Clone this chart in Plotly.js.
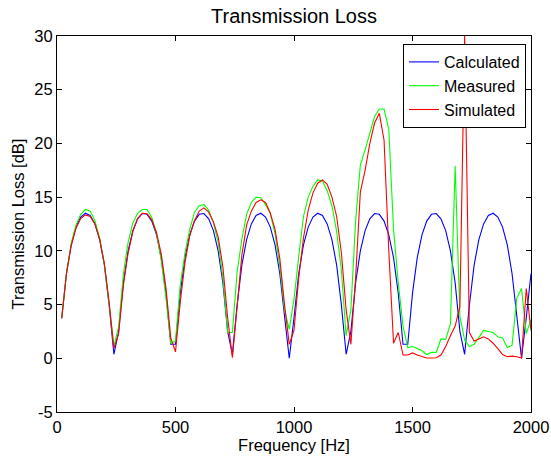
<!DOCTYPE html>
<html>
<head>
<meta charset="utf-8">
<script src="https://cdn.plot.ly/plotly-3.0.1.min.js"></script>
<style>html,body{margin:0;padding:0;background:#fff;}#chart{width:551px;height:461px;}</style>
</head>
<body>
<div id="chart"></div>
<script>
const frequency = [
  20,40,60,80,100,120,140,160,180,200,
  220,240,260,280,300,320,340,360,380,400,
  420,440,460,480,500,520,540,560,580,600,
  620,640,660,680,700,720,740,760,780,800,
  820,840,860,880,900,920,940,960,980,1000,
  1020,1040,1060,1080,1100,1120,1140,1160,1180,1200,
  1220,1240,1260,1280,1300,1320,1340,1360,1380,1400,
  1420,1440,1460,1480,1500,1520,1540,1560,1580,1600,
  1620,1640,1660,1680,1700,1720,1740,1760,1780,1800,
  1820,1840,1860,1880,1900,1920,1940,1960,1980,2000
];
const calculated = [
  3.76,7.89,10.56,12.21,13.15,13.50,13.29,12.51,11.05,8.67,
  4.95,0.37,2.51,7.02,10.0,11.88,12.98,13.47,13.40,12.77,
  11.49,9.37,6.04,1.30,1.30,6.04,9.37,11.49,12.77,13.40,
  13.47,12.98,11.88,10.0,7.02,2.51,0.37,4.95,8.67,11.05,
  12.51,13.29,13.50,13.15,12.21,10.56,7.89,3.76,0.0,3.76,
  7.89,10.56,12.21,13.15,13.50,13.29,12.51,11.05,8.67,4.95,
  0.37,2.51,7.02,10.0,11.88,12.98,13.47,13.40,12.77,11.49,
  9.37,6.04,1.30,1.30,6.04,9.37,11.49,12.77,13.40,13.47,
  12.98,11.88,10.0,7.02,2.51,0.37,4.95,8.67,11.05,12.51,
  13.29,13.50,13.15,12.21,10.56,7.89,3.76,0.0,3.76,7.89
];
const measured = [
  3.8,7.9,10.7,12.4,13.4,13.85,13.7,12.8,11.2,8.7,
  5.0,1.1,2.9,7.8,10.8,12.6,13.5,13.85,13.85,13.1,
  11.6,9.1,5.6,1.4,1.6,6.8,9.8,12.0,13.6,14.2,
  14.3,13.8,12.6,10.8,7.5,2.4,2.4,8.0,11.1,13.4,
  14.5,15.0,14.95,14.3,13.5,11.6,8.6,4.5,2.7,5.5,
  9.5,13.2,15.0,16.0,16.6,16.5,15.6,14.2,11.8,8.2,
  2.1,4.5,12.8,18.0,19.4,20.9,22.5,23.2,23.2,21.3,
  12.0,7.0,3.0,1.0,1.1,0.9,0.7,0.35,0.55,0.55,
  1.8,1.75,3.2,17.9,3.9,1.7,1.1,1.3,2.0,2.6,
  2.5,2.4,2.0,1.9,1.0,1.2,5.6,6.5,2.3,3.6
];
const simulated = [
  3.7,7.9,10.5,12.1,13.0,13.35,13.2,12.5,11.1,8.8,
  5.2,0.9,2.3,6.8,9.8,11.8,13.0,13.5,13.45,12.9,
  11.7,9.7,6.5,1.9,0.6,5.2,8.9,11.4,12.8,13.7,
  14.0,13.6,12.7,11.3,8.5,3.8,0.05,5.0,9.6,12.4,
  13.7,14.5,14.75,14.5,13.5,12.0,9.3,5.0,1.3,2.6,
  7.5,11.2,13.8,15.4,16.3,16.6,16.2,15.0,13.2,9.8,
  4.5,1.3,7.5,15.5,17.5,20.0,21.9,22.8,20.3,10.0,
  1.4,2.4,0.3,0.3,0.5,0.3,0.15,0.03,0.03,0.05,
  0.3,1.1,2.1,3.0,4.8,30.0,2.4,1.6,1.8,2.0,
  1.8,1.4,0.9,0.35,0.15,0.2,0.15,0.03,6.5,2.6
];
const seriesNames = ['Calculated','Measured','Simulated'];
const seriesColors = ['#0000ff','#00ff00','#ff0000'];
const xTicks = [0,500,1000,1500,2000];
const yTicks = [-5,0,5,10,15,20,25,30];

const FONT = 'Liberation Sans, Arial, Helvetica, sans-serif';
const series = [calculated, measured, simulated];
const traces = series.map((vals, i) => ({
  x: frequency, y: vals, type: 'scatter', mode: 'lines',
  name: seriesNames[i], line: {color: seriesColors[i], width: 1.1}
}));

const axisCommon = {
  showgrid: false, zeroline: false, showline: true, linecolor: '#000', linewidth: 1,
  mirror: 'ticks', ticks: 'inside', ticklen: 5, tickwidth: 1, tickcolor: '#000',
  tickfont: {family: FONT, size: 16.5, color: '#000'}, automargin: false
};

const layout = {
  width: 551, height: 461,
  margin: {l: 57, r: 20, t: 36, b: 49, pad: 0},
  paper_bgcolor: '#fff', plot_bgcolor: '#fff',
  font: {family: FONT, color: '#000'},
  title: {text: 'Transmission Loss', font: {family: FONT, size: 20, color: '#000'},
          xref: 'paper', x: 0.5, xanchor: 'center', yref: 'container', y: 1 - 16/461, yanchor: 'middle'},
  xaxis: Object.assign({}, axisCommon, {
    range: [0, 2000], tickvals: xTicks, ticktext: xTicks.map(String),
    title: {text: 'Frequency [Hz]', font: {family: FONT, size: 16.5, color: '#000'}, standoff: 4}
  }),
  yaxis: Object.assign({}, axisCommon, {
    range: [-5, 30], tickvals: yTicks, ticktext: yTicks.map(String),
    title: {text: 'Transmission Loss [dB]', font: {family: FONT, size: 16.5, color: '#000'}, standoff: 5}
  }),
  showlegend: true,
  legend: {
    x: (526 - 57) / 474, xanchor: 'right', y: (412 - 44) / 376, yanchor: 'top',
    bgcolor: '#fff', bordercolor: '#000', borderwidth: 1,
    font: {family: FONT, size: 16, color: '#000'}, tracegroupgap: 0
  }
};

Plotly.newPlot('chart', traces, layout, {displayModeBar: false, staticPlot: true});
</script>
</body>
</html>
